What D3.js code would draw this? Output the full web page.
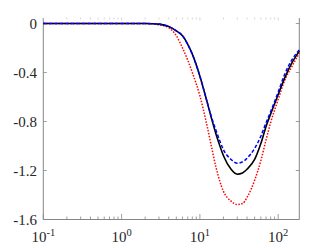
<!DOCTYPE html>
<html><head><meta charset="utf-8">
<script src="https://cdn.jsdelivr.net/npm/d3@7"></script>
<style>body{margin:0;background:#fff}svg{display:block}</style>
</head><body>
<svg id="c" width="332" height="248"></svg>
<script>
const xVals = [0.1, 0.5, 1, 2, 2.5, 3, 4, 5, 6, 7, 8, 10, 12, 14, 16, 18, 20, 25, 30, 35, 40, 50, 60, 70, 80, 100, 120, 150, 186];
const blackVals = [0,0,0,0,-0.002,-0.005,-0.025,-0.06,-0.10,-0.17,-0.25,-0.43,-0.61,-0.77,-0.90,-1.00,-1.08,-1.19,-1.23,-1.22,-1.19,-1.11,-0.98,-0.84,-0.74,-0.58,-0.45,-0.32,-0.225];
const blueVals = [0,0,0,0,-0.002,-0.005,-0.025,-0.06,-0.10,-0.17,-0.25,-0.43,-0.61,-0.76,-0.87,-0.96,-1.03,-1.11,-1.14,-1.13,-1.10,-1.02,-0.92,-0.81,-0.72,-0.56,-0.42,-0.295,-0.215];
const redVals = [0,0,0,0,-0.003,-0.01,-0.035,-0.10,-0.20,-0.30,-0.40,-0.59,-0.80,-1.00,-1.17,-1.29,-1.37,-1.45,-1.478,-1.47,-1.42,-1.28,-1.12,-0.95,-0.81,-0.62,-0.47,-0.35,-0.24];
const yTicks = [0, -0.4, -0.8, -1.2, -1.6];
const yTickLabels = ["0", "-0.4", "-0.8", "-1.2", "-1.6"];
const xTicks = [0.1, 1, 10, 100];
const xTickExp = ["-1", "0", "1", "2"];

const svg = d3.select("#c");
const L = 43.3, R = 299.3, T = 18, B = 219.5;
const x = d3.scaleLog().domain([0.1, 186]).range([L, R]);
const y = d3.scaleLinear().domain([-1.6, 0]).range([B, 23.5]);
const axisCol = "#868686";
const font = "'Liberation Serif', 'Times New Roman', serif";

const minor = [];
for (let d = -1; d <= 2; d++) for (let m = 1; m <= 9; m++) {
  const v = m * Math.pow(10, d);
  if (v >= 0.1 && v <= 186) minor.push(v);
}
const g = svg.append("g");
g.append("line").attr("x1", L).attr("x2", R).attr("y1", B).attr("y2", B).attr("stroke", axisCol).attr("stroke-width", 1);
g.append("line").attr("x1", L).attr("x2", L).attr("y1", T).attr("y2", B).attr("stroke", axisCol).attr("stroke-width", 1);
g.append("line").attr("x1", R).attr("x2", R).attr("y1", T).attr("y2", B).attr("stroke", axisCol).attr("stroke-width", 1);
minor.forEach(v => {
  const isMajor = xTicks.includes(v);
  const len = isMajor ? 5.5 : 3;
  g.append("line").attr("x1", x(v)).attr("x2", x(v)).attr("y1", B).attr("y2", B - len).attr("stroke", axisCol).attr("stroke-width", 0.8);
  g.append("line").attr("x1", x(v)).attr("x2", x(v)).attr("y1", T - 0.5).attr("y2", T + (isMajor ? 2.5 : 1.5)).attr("stroke", "#c4c4c4").attr("stroke-width", 0.7);
});
yTicks.forEach((v, i) => {
  g.append("line").attr("x1", L).attr("x2", L + 3.5).attr("y1", y(v)).attr("y2", y(v)).attr("stroke", axisCol).attr("stroke-width", 0.8);
  g.append("line").attr("x1", R).attr("x2", R - 3.5).attr("y1", y(v)).attr("y2", y(v)).attr("stroke", axisCol).attr("stroke-width", 0.8);
  g.append("text").attr("x", 37).attr("y", y(v) + 5).attr("text-anchor", "end")
    .attr("font-family", font).attr("font-size", 15).attr("fill", "#262626").text(yTickLabels[i]);
});
xTicks.forEach((v, i) => {
  const t = g.append("text").attr("x", x(v)).attr("y", 241.5).attr("text-anchor", "middle")
    .attr("font-family", font).attr("font-size", 15).attr("fill", "#262626");
  t.append("tspan").text("10");
  t.append("tspan").attr("dy", -6).attr("font-size", 10.5).text(xTickExp[i]);
});

const line = vals => d3.line().x((d, i) => x(xVals[i])).y(d => y(d)).curve(d3.curveMonotoneX)(vals);
svg.append("path").attr("d", line(redVals)).attr("fill", "none").attr("stroke", "#ff0000").attr("stroke-width", 1.5).attr("stroke-dasharray", "1.5,1.5");
svg.append("path").attr("d", line(blackVals)).attr("fill", "none").attr("stroke", "#000").attr("stroke-width", 1.6);
svg.append("path").attr("d", line(blueVals)).attr("fill", "none").attr("stroke", "#0000ff").attr("stroke-width", 1.5).attr("stroke-dasharray", "3.5,2");
</script>
</body></html>
